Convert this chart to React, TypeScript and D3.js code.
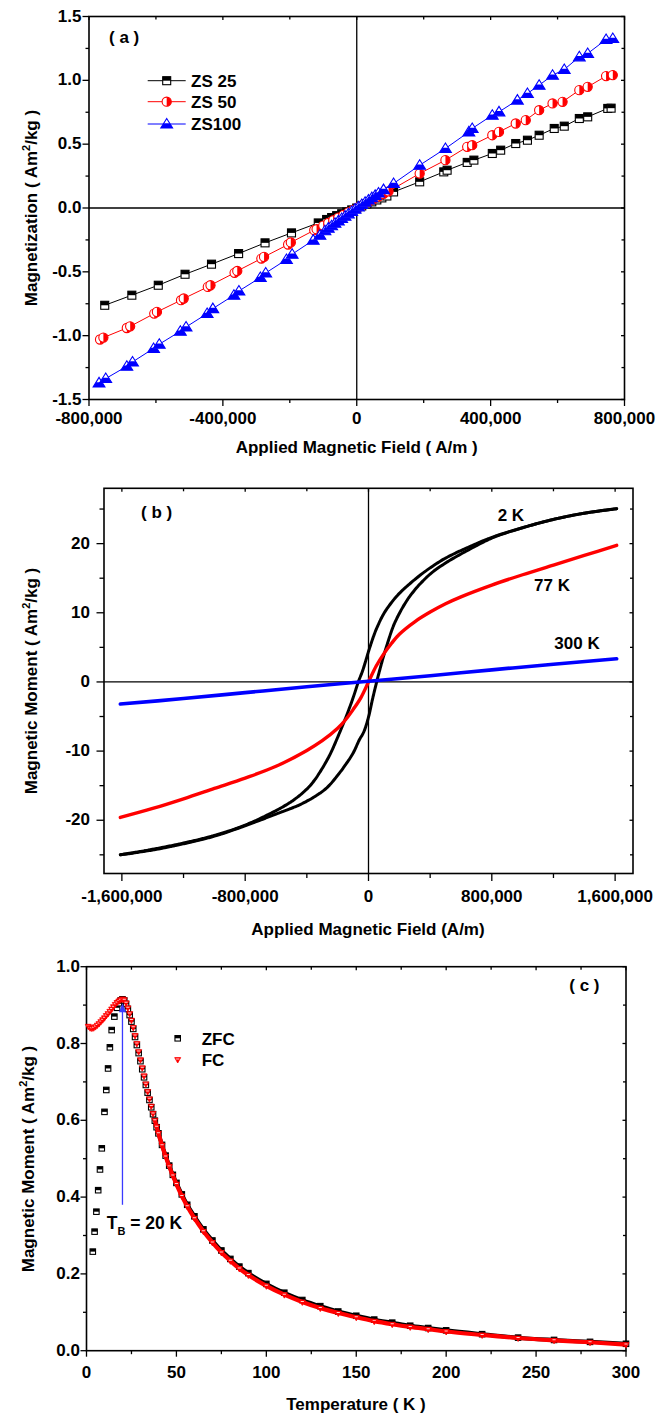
import React from 'react';
import * as d3 from 'd3';

const FONT = '"Liberation Sans", Arial, Helvetica, sans-serif';

// ---------- Panel (a): magnetization vs applied field (A/m) ----------
const zs25Field = [-753000, -672000, -593000, -513000, -434000, -353000, -274000, -195000, -115000,
  -90000, -75000, -60000, -45000, -30000, -15000, 0, 15000, 30000, 45000, 60000, 75000, 90000,
  110000, 188000, 260000, 270000, 330000, 350000, 405000, 430000, 475000, 510000, 545000,
  590000, 620000, 665000, 690000, 750000, 760000];
const zs25M = [-0.762, -0.683, -0.605, -0.519, -0.44, -0.357, -0.273, -0.195, -0.117,
  -0.09, -0.075, -0.06, -0.045, -0.03, -0.015, 0.0, 0.016, 0.032, 0.048, 0.063, 0.079, 0.094,
  0.126, 0.205, 0.283, 0.296, 0.357, 0.375, 0.427, 0.453, 0.505, 0.531, 0.57,
  0.623, 0.641, 0.701, 0.714, 0.78, 0.782];

const zs50Field = [-767000, -757000, -687000, -677000, -605000, -597000, -525000, -517000, -445000, -437000,
  -365000, -357000, -285000, -277000, -205000, -197000, -127000, -120000,
  -100000, -85000, -70000, -55000, -40000, -25000, -10000, 5000, 20000, 35000, 50000, 65000, 80000, 95000,
  188000, 265000, 330000, 345000, 405000, 425000, 475000, 505000, 545000, 585000, 615000,
  665000, 690000, 745000, 765000];
const zs50M = [-1.03, -1.015, -0.94, -0.927, -0.827, -0.814, -0.722, -0.709, -0.618, -0.605,
  -0.508, -0.493, -0.396, -0.383, -0.286, -0.27, -0.174, -0.166,
  -0.138, -0.117, -0.096, -0.075, -0.055, -0.034, -0.014, 0.007, 0.028, 0.048, 0.069, 0.089, 0.11, 0.13,
  0.27, 0.375, 0.479, 0.492, 0.57, 0.596, 0.662, 0.688, 0.766, 0.819, 0.832,
  0.923, 0.949, 1.033, 1.041];

const zs100Field = [-770000, -750000, -687000, -670000, -607000, -590000, -527000, -510000, -447000, -430000,
  -367000, -352000, -288000, -272000, -210000, -193000, -130000, -110000,
  -95000, -85000, -75000, -65000, -55000, -45000, -35000, -25000, -15000, -5000,
  5000, 15000, 25000, 35000, 45000, 55000, 65000, 80000,
  110000, 188000, 265000, 335000, 345000, 405000, 425000, 480000, 510000, 545000,
  585000, 620000, 665000, 690000, 745000, 765000];
const zs100M = [-1.37, -1.336, -1.24, -1.206, -1.1, -1.067, -0.965, -0.932, -0.827, -0.788,
  -0.683, -0.65, -0.545, -0.509, -0.404, -0.362, -0.252, -0.213,
  -0.178, -0.158, -0.139, -0.12, -0.101, -0.082, -0.064, -0.046, -0.027, -0.009,
  0.009, 0.027, 0.045, 0.063, 0.081, 0.099, 0.117, 0.144,
  0.192, 0.335, 0.466, 0.596, 0.623, 0.727, 0.753, 0.845, 0.897, 0.962,
  1.04, 1.085, 1.184, 1.21, 1.32, 1.328];

const aSeriesNames = ['ZS 25', 'ZS 50', 'ZS100'];
const aXTicks = [-800000, -400000, 0, 400000, 800000];
const aXTickLabels = ['-800,000', '-400,000', '0', '400,000', '800,000'];
const aXMinor = [-600000, -200000, 200000, 600000];
const aYTicks = [-1.5, -1, -0.5, 0, 0.5, 1, 1.5];
const aYTickLabels = ['-1.5', '-1.0', '-0.5', '0.0', '0.5', '1.0', '1.5'];
const aYMinor = [-1.25, -0.75, -0.25, 0.25, 0.75, 1.25];

// ---------- Panel (b): hysteresis loops at 2 K, 77 K, 300 K ----------
const k2DescField = [1610000, 1400000, 1200000, 1000000, 800000, 600000, 500000, 400000, 300000, 200000,
  150000, 100000, 50000, 25000, 0, -20000, -40000, -66000, -100000, -150000, -200000, -250000,
  -300000, -350000, -400000, -500000, -600000, -800000, -1000000, -1200000, -1400000, -1610000];
const k2DescM = [25.05, 24.4, 23.5, 22.3, 20.9, 19.0, 17.9, 16.5, 14.8, 12.8,
  11.5, 9.9, 7.6, 6.1, 4.4, 2.9, 1.5, 0.0, -2.3, -5.3, -8.0, -10.5,
  -12.5, -14.2, -15.5, -17.3, -18.6, -20.7, -22.2, -23.3, -24.2, -25.0];
const k2AscField = [-1610000, -1400000, -1200000, -1000000, -800000, -600000, -450000, -350000, -270000,
  -200000, -150000, -100000, -60000, -30000, 0, 25000, 53000, 75000, 100000, 125000, 160000, 200000,
  250000, 300000, 400000, 500000, 600000, 700000, 800000, 1000000, 1200000, 1400000, 1610000];
const k2AscM = [-25.0, -24.3, -23.4, -22.3, -20.8, -19.1, -17.8, -16.6, -15.3,
  -13.5, -12.0, -10.3, -8.4, -7.2, -5.1, -2.6, 0.0, 1.9, 3.9, 5.7, 8.0, 9.9,
  11.8, 13.3, 15.6, 17.2, 18.5, 19.7, 20.8, 22.3, 23.5, 24.4, 25.05];
const k77Field = [-1610000, -1400000, -1200000, -1000000, -800000, -600000, -400000, -300000, -200000,
  -150000, -100000, -50000, 0, 50000, 100000, 150000, 200000, 300000, 400000, 500000, 600000,
  800000, 1000000, 1200000, 1400000, 1610000];
const k77M = [-19.6, -18.3, -16.9, -15.4, -13.9, -12.2, -9.9, -8.5, -6.7,
  -5.5, -4.0, -2.3, 0.0, 2.3, 4.1, 5.6, 6.9, 8.7, 10.1, 11.3, 12.3,
  14.0, 15.5, 16.9, 18.3, 19.75];
const k300Field = [-1610000, -1200000, -800000, -400000, 0, 400000, 800000, 1200000, 1610000];
const k300M = [-3.2, -2.4, -1.55, -0.7, 0.1, 0.9, 1.75, 2.55, 3.35];

const bCurveLabels = ['2 K', '77 K', '300 K'];
const bXTicks = [-1600000, -800000, 0, 800000, 1600000];
const bXTickLabels = ['-1,600,000', '-800,000', '0', '800,000', '1,600,000'];
const bXMinor = [-1200000, -400000, 400000, 1200000];
const bYTicks = [-20, -10, 0, 10, 20];
const bYTickLabels = ['-20', '-10', '0', '10', '20'];
const bYMinor = [-25, -15, -5, 5, 15, 25];

// ---------- Panel (c): ZFC / FC magnetic moment vs temperature ----------
const zfcT = [3.5, 4.5, 5.5, 6.5, 7.5, 8.5, 10, 11, 12, 13, 14, 15.5, 17, 18, 19, 20, 21, 22, 23, 24, 25,
  26, 27, 28, 29, 30, 31, 32, 33, 34, 35, 36, 37, 38, 39, 40, 42, 44, 46, 48, 50, 53, 56, 60, 65, 70,
  75, 80, 85, 90, 100, 110, 120, 130, 140, 150, 160, 170, 180, 190, 200, 220, 240, 260, 280, 300];
const zfcM = [0.258, 0.31, 0.362, 0.418, 0.472, 0.527, 0.622, 0.679, 0.735, 0.79, 0.835, 0.87, 0.893,
  0.905, 0.912, 0.915, 0.912, 0.903, 0.89, 0.874, 0.857, 0.838, 0.817, 0.796, 0.775, 0.754, 0.733,
  0.712, 0.692, 0.672, 0.653, 0.634, 0.616, 0.599, 0.582, 0.566, 0.536, 0.508, 0.482, 0.458, 0.437,
  0.407, 0.38, 0.35, 0.316, 0.287, 0.261, 0.239, 0.219, 0.202, 0.174, 0.151, 0.132, 0.116, 0.102,
  0.091, 0.081, 0.073, 0.065, 0.059, 0.053, 0.043, 0.034, 0.028, 0.023, 0.018];
const fcT = [1, 2, 3, 4, 5, 6, 7, 8, 9, 10, 11, 12, 13, 14, 15, 16, 17, 18, 19, 20, 21, 22, 23, 24, 25,
  26, 27, 28, 29, 30, 31, 32, 33, 34, 35, 36, 37, 38, 39, 40, 42, 44, 46, 48, 50, 53, 56, 60, 65, 70,
  75, 80, 85, 90, 100, 110, 120, 130, 140, 150, 160, 170, 180, 190, 200, 220, 240, 260, 280, 300];
const fcM = [0.845, 0.841, 0.84, 0.841, 0.844, 0.848, 0.852, 0.857, 0.862, 0.867, 0.873, 0.878, 0.884,
  0.89, 0.896, 0.902, 0.907, 0.911, 0.914, 0.916, 0.914, 0.906, 0.893, 0.878, 0.861, 0.842, 0.821,
  0.8, 0.779, 0.758, 0.737, 0.716, 0.695, 0.675, 0.656, 0.637, 0.618, 0.6, 0.583, 0.566, 0.535, 0.506,
  0.48, 0.456, 0.434, 0.403, 0.376, 0.345, 0.311, 0.282, 0.256, 0.234, 0.214, 0.197, 0.169, 0.146,
  0.127, 0.111, 0.098, 0.087, 0.077, 0.069, 0.062, 0.056, 0.05, 0.041, 0.033, 0.027, 0.022, 0.016];
const blockingT = 20;
const arrowFrom = 0.38;
const arrowTo = 0.905;

const cSeriesNames = ['ZFC', 'FC'];
const cXTicks = [0, 50, 100, 150, 200, 250, 300];
const cXTickLabels = ['0', '50', '100', '150', '200', '250', '300'];
const cXMinor = [25, 75, 125, 175, 225, 275];
const cYTicks = [0, 0.2, 0.4, 0.6, 0.8, 1.0];
const cYTickLabels = ['0.0', '0.2', '0.4', '0.6', '0.8', '1.0'];
const cYMinor = [0.1, 0.3, 0.5, 0.7, 0.9];

const zip = (xs: number[], ys: number[]) => xs.map((v, i) => [v, ys[i]] as [number, number]);

type Scale = d3.ScaleLinear<number, number>;

function Axes(props: {
  x: Scale; y: Scale; xTicks: number[]; xLabels: string[]; xMinor: number[];
  yTicks: number[]; yLabels: string[]; yMinor: number[];
  major: number; minor: number; xLabelBase: number; yLabelEnd: number; zeroLines?: boolean;
}) {
  const { x, y, xTicks, xLabels, xMinor, yTicks, yLabels, yMinor, major, minor, xLabelBase, yLabelEnd } = props;
  const [x0, x1] = x.range();
  const [y0, y1] = y.range();
  const inner = 3.5;
  const sw = 1.3;
  return (
    <g>
      {props.zeroLines && (
        <g stroke="#000" strokeWidth={1.3}>
          <line x1={x0} x2={x1} y1={y(0)} y2={y(0)} />
          <line x1={x(0)} x2={x(0)} y1={y0} y2={y1} />
        </g>
      )}
      <rect x={x0} y={y1} width={x1 - x0} height={y0 - y1} fill="none" stroke="#000" strokeWidth={1.6} />
      <g stroke="#000" strokeWidth={sw}>
        {xTicks.map((v) => (
          <g key={'xM' + v}>
            <line x1={x(v)} x2={x(v)} y1={y0} y2={y0 + major} />
            <line x1={x(v)} x2={x(v)} y1={y1} y2={y1 + inner} />
          </g>
        ))}
        {xMinor.map((v) => (
          <g key={'xm' + v}>
            <line x1={x(v)} x2={x(v)} y1={y0} y2={y0 + minor} />
            <line x1={x(v)} x2={x(v)} y1={y1} y2={y1 + inner - 0.5} />
          </g>
        ))}
        {yTicks.map((v) => (
          <g key={'yM' + v}>
            <line x1={x0} x2={x0 - major} y1={y(v)} y2={y(v)} />
            <line x1={x1} x2={x1 - inner} y1={y(v)} y2={y(v)} />
          </g>
        ))}
        {yMinor.map((v) => (
          <g key={'ym' + v}>
            <line x1={x0} x2={x0 - minor} y1={y(v)} y2={y(v)} />
            <line x1={x1} x2={x1 - inner + 0.5} y1={y(v)} y2={y(v)} />
          </g>
        ))}
      </g>
      <g fontFamily={FONT} fontWeight={700} fontSize={17} fill="#000">
        {xTicks.map((v, i) => (
          <text key={'xl' + v} x={x(v)} y={xLabelBase} textAnchor="middle">{xLabels[i]}</text>
        ))}
        {yTicks.map((v, i) => (
          <text key={'yl' + v} x={yLabelEnd} y={y(v) + 5} textAnchor="end">{yLabels[i]}</text>
        ))}
      </g>
    </g>
  );
}

function Unit() {
  return (
    <>
      {' ( Am'}
      <tspan fontSize={11} dy={-7}>2</tspan>
      <tspan dy={7}>/kg )</tspan>
    </>
  );
}

function HalfSquare({ cx, cy, s, c }: { cx: number; cy: number; s: number; c: string }) {
  return (
    <g>
      <rect x={cx - s / 2} y={cy - s / 2} width={s} height={s} fill="#fff" stroke={c} strokeWidth={1.1} />
      <rect x={cx - s / 2} y={cy - s / 2} width={s} height={s / 2} fill={c} />
    </g>
  );
}

function HalfCircle({ cx, cy, r, c }: { cx: number; cy: number; r: number; c: string }) {
  return (
    <g>
      <circle cx={cx} cy={cy} r={r} fill="#fff" stroke={c} strokeWidth={1.1} />
      <path d={`M${cx},${cy - r} A${r},${r} 0 0 1 ${cx},${cy + r} Z`} fill={c} />
    </g>
  );
}

function HalfTriangle({ cx, cy, h, c }: { cx: number; cy: number; h: number; c: string }) {
  const w = h * 0.62;
  const top = cy - h * 0.58;
  const bot = cy + h * 0.42;
  const mid = (top + bot) / 2;
  return (
    <g>
      <path d={`M${cx},${top} L${cx + w},${bot} L${cx - w},${bot} Z`} fill="#fff" stroke={c} strokeWidth={1.1} />
      <path d={`M${cx - w / 2},${mid} L${cx + w / 2},${mid} L${cx + w},${bot} L${cx - w},${bot} Z`} fill={c} />
    </g>
  );
}

function DownTriangle({ cx, cy, s, c }: { cx: number; cy: number; s: number; c: string }) {
  const w = s / 2;
  const top = cy - s * 0.4;
  const bot = cy + s * 0.5;
  const mid = top + (bot - top) * 0.35;
  return (
    <g>
      <path d={`M${cx - w},${top} L${cx + w},${top} L${cx},${bot} Z`} fill={c} stroke={c} strokeWidth={0.8} />
      <path d={`M${cx - w * 0.55},${top + 0.9} L${cx + w * 0.55},${top + 0.9} L${cx + w * 0.5},${mid} L${cx - w * 0.5},${mid} Z`} fill="#ffd0d0" />
    </g>
  );
}

function PanelA() {
  const x = d3.scaleLinear().domain([-800000, 800000]).range([89, 624.5]);
  const y = d3.scaleLinear().domain([-1.5, 1.5]).range([399.5, 16.5]);
  const line = d3.line<[number, number]>().x((d) => x(d[0])).y((d) => y(d[1]));
  const s25 = zip(zs25Field, zs25M);
  const s50 = zip(zs50Field, zs50M);
  const s100 = zip(zs100Field, zs100M);
  const legendRows = [80.7, 101.7, 124];
  const colors = ['#000', '#ff0000', '#0000ff'];
  return (
    <g>
      <Axes x={x} y={y} xTicks={aXTicks} xLabels={aXTickLabels} xMinor={aXMinor}
        yTicks={aYTicks} yLabels={aYTickLabels} yMinor={aYMinor}
        major={6.5} minor={3.5} xLabelBase={423.5} yLabelEnd={81.5} zeroLines />
      <path d={line(s25) || ''} fill="none" stroke={colors[0]} strokeWidth={1} />
      {s25.map((d, i) => <HalfSquare key={'a25' + i} cx={x(d[0])} cy={y(d[1])} s={8} c={colors[0]} />)}
      <path d={line(s50) || ''} fill="none" stroke={colors[1]} strokeWidth={1} />
      {s50.map((d, i) => <HalfCircle key={'a50' + i} cx={x(d[0])} cy={y(d[1])} r={4.6} c={colors[1]} />)}
      <path d={line(s100) || ''} fill="none" stroke={colors[2]} strokeWidth={1} />
      {s100.map((d, i) => <HalfTriangle key={'a100' + i} cx={x(d[0])} cy={y(d[1])} h={9.5} c={colors[2]} />)}
      {legendRows.map((ly, i) => (
        <g key={'leg' + i}>
          <line x1={147.7} x2={185.7} y1={ly} y2={ly} stroke={colors[i]} strokeWidth={1} />
          {i === 0 && <HalfSquare cx={166.7} cy={ly} s={8} c={colors[0]} />}
          {i === 1 && <HalfCircle cx={166.7} cy={ly} r={4.6} c={colors[1]} />}
          {i === 2 && <HalfTriangle cx={166.7} cy={ly} h={9.5} c={colors[2]} />}
          <text x={191} y={ly + 6} fontFamily={FONT} fontWeight={700} fontSize={17}>{aSeriesNames[i]}</text>
        </g>
      ))}
      <text x={109} y={43} fontFamily={FONT} fontWeight={700} fontSize={17}>( a )</text>
      <text x={356.7} y={453} textAnchor="middle" fontFamily={FONT} fontWeight={700} fontSize={17}>
        Applied Magnetic Field ( A/m )
      </text>
      <text transform="translate(37,208) rotate(-90)" textAnchor="middle" fontFamily={FONT} fontWeight={700} fontSize={17}>
        Magnetization<Unit />
      </text>
    </g>
  );
}

function PanelB() {
  const x = d3.scaleLinear().domain([-1716000, 1716000]).range([104, 633]);
  const y = d3.scaleLinear().domain([-27.7, 28]).range([873.5, 488.3]);
  const line = d3.line<[number, number]>().x((d) => x(d[0])).y((d) => y(d[1])).curve(d3.curveCatmullRom.alpha(0.5));
  return (
    <g>
      <Axes x={x} y={y} xTicks={bXTicks} xLabels={bXTickLabels} xMinor={bXMinor}
        yTicks={bYTicks} yLabels={bYTickLabels} yMinor={bYMinor}
        major={7.5} minor={4.5} xLabelBase={901.5} yLabelEnd={90} zeroLines />
      <g fill="none" strokeLinecap="round">
        <path d={line(zip(k2DescField, k2DescM)) || ''} stroke="#000" strokeWidth={3} strokeDasharray="3.5 0.8" />
        <path d={line(zip(k2AscField, k2AscM)) || ''} stroke="#000" strokeWidth={3} strokeDasharray="3.5 0.8" />
        <path d={line(zip(k77Field, k77M)) || ''} stroke="#ff0000" strokeWidth={3.4} />
        <path d={line(zip(k300Field, k300M)) || ''} stroke="#0000ff" strokeWidth={3.6} />
      </g>
      <g fontFamily={FONT} fontWeight={700} fontSize={17}>
        <text x={497.7} y={521}>{bCurveLabels[0]}</text>
        <text x={534} y={591}>{bCurveLabels[1]}</text>
        <text x={554.3} y={649.3}>{bCurveLabels[2]}</text>
        <text x={141} y={518}>( b )</text>
        <text x={368} y={935} textAnchor="middle">Applied Magnetic Field (A/m)</text>
        <text transform="translate(37,681) rotate(-90)" textAnchor="middle">
          Magnetic Moment<Unit />
        </text>
      </g>
    </g>
  );
}

function PanelC() {
  const x = d3.scaleLinear().domain([0, 300]).range([86.5, 626]);
  const y = d3.scaleLinear().domain([0, 1]).range([1350.7, 966.7]);
  const line = d3.line<[number, number]>().x((d) => x(d[0])).y((d) => y(d[1])).curve(d3.curveMonotoneX);
  const zfc = zip(zfcT, zfcM);
  const fc = zip(fcT, fcM);
  const zfcTail = zfc.filter((d) => d[0] >= 38);
  const fcTail = fc.filter((d) => d[0] >= 38);
  const ax = x(blockingT);
  return (
    <g>
      <Axes x={x} y={y} xTicks={cXTicks} xLabels={cXTickLabels} xMinor={cXMinor}
        yTicks={cYTicks} yLabels={cYTickLabels} yMinor={cYMinor}
        major={6} minor={3.5} xLabelBase={1378.3} yLabelEnd={80} />
      <path d={line(zfcTail) || ''} fill="none" stroke="#000" strokeWidth={4} />
      {zfc.map((d, i) => <HalfSquare key={'z' + i} cx={x(d[0])} cy={y(d[1])} s={5.5} c="#000" />)}
      <path d={line(fcTail) || ''} fill="none" stroke="#ff0000" strokeWidth={4.2} />
      {fc.map((d, i) => <DownTriangle key={'f' + i} cx={x(d[0])} cy={y(d[1]) + 0.5} s={6} c="#ff0000" />)}
      {/* blocking-temperature arrow drawn above the markers */}
      <line x1={ax} x2={ax} y1={y(arrowFrom)} y2={y(arrowTo) + 7} stroke="#3a3aff" strokeWidth={1.3} />
      <path d={`M${ax},${y(arrowTo)} L${ax + 3.5},${y(arrowTo) + 9} L${ax - 3.5},${y(arrowTo) + 9} Z`} fill="#3a3aff" />
      <HalfSquare cx={177.7} cy={1038.3} s={5.5} c="#000" />
      <DownTriangle cx={177.7} cy={1060} s={6} c="#ff0000" />
      <g fontFamily={FONT} fontWeight={700} fontSize={17}>
        <text x={201.7} y={1044.5}>{cSeriesNames[0]}</text>
        <text x={201.7} y={1066.2}>{cSeriesNames[1]}</text>
        <text x={569.3} y={991}>( c )</text>
        <text x={106.7} y={1229.3} fontSize={17.5}>
          T<tspan fontSize={11} dy={6}>B</tspan><tspan dy={-6}>{` = ${blockingT} K`}</tspan>
        </text>
        <text x={356} y={1409.6} textAnchor="middle">Temperature ( K )</text>
        <text transform="translate(34,1159) rotate(-90)" textAnchor="middle">
          Magnetic Moment<Unit />
        </text>
      </g>
    </g>
  );
}

export default function App() {
  return (
    <svg width={657} height={1416} viewBox="0 0 657 1416"
      style={{ position: 'absolute', left: 0, top: 0, background: '#fff' }}>
      <rect width={657} height={1416} fill="#fff" />
      <PanelA />
      <PanelB />
      <PanelC />
    </svg>
  );
}
